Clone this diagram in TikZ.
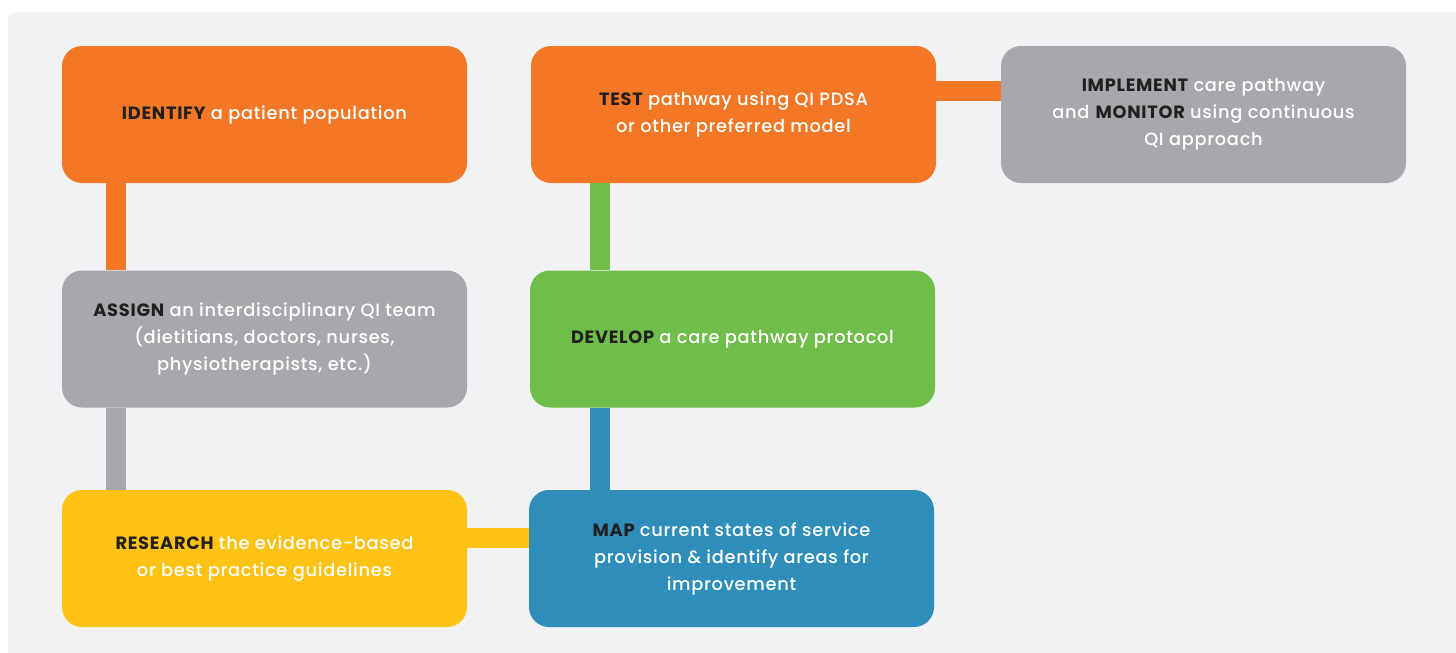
\documentclass[tikz,border=0pt]{standalone}
\usepackage{fontspec}
\setmainfont{Poppins}[UprightFont=* Medium, BoldFont=* Bold, LetterSpace=4]
\usetikzlibrary{calc}

\definecolor{qiorange}{RGB}{243,119,36}
\definecolor{qigray}{RGB}{167,168,171}
\definecolor{qigreen}{RGB}{110,190,73}
\definecolor{qiyellow}{RGB}{253,194,20}
\definecolor{qiblue}{RGB}{46,141,185}
\definecolor{qipaper}{RGB}{241,242,244}
\definecolor{qiink}{RGB}{35,31,32}

\newcommand{\kw}[1]{\textbf{\color{qiink}#1}}

\tikzset{
  qibox/.style={rectangle, rounded corners=20pt, minimum width=405pt, minimum height=137pt,
    inner sep=0pt, fill=#1, text=white, align=center,
    font=\fontsize{17.8}{27}\selectfont},
  link/.style={line width=20pt, draw=#1}
}

\begin{document}
\begin{tikzpicture}[x=1pt, y=-1pt]
			%%%%% START %%%%%
			\useasboundingbox (0, 0) rectangle (1456, 653);
			\fill[qipaper, rounded corners=8pt] (8, 12) rectangle (1470, 670);
			
			\node[qibox=qiorange] (identify) at (264.5, 114.5) {\kw{IDENTIFY} a patient population};
			\node[qibox=qiorange] (test) at (733.5, 114.5) {\kw{TEST} pathway using QI PDSA\\or other preferred model};
			\node[qibox=qigray] (implement) at (1203.5, 114.5) {\kw{IMPLEMENT} care pathway\\and \kw{MONITOR} using continuous\\QI approach};
			
			\node[qibox=qigray] (assign) at (264.5, 339) {\kw{ASSIGN} an interdisciplinary QI team\\(dietitians, doctors, nurses,\\physiotherapists, etc.)};
			\node[qibox=qigreen] (develop) at (732.5, 339) {\kw{DEVELOP} a care pathway protocol};
			
			\node[qibox=qiyellow] (research) at (264.5, 558.5) {\kw{RESEARCH} the evidence-based\\or best practice guidelines};
			\node[qibox=qiblue] (map) at (731.5, 558.5) {\kw{MAP} current states of service\\provision \& identify areas for\\improvement};
			
			% bars between the steps
			\draw[link=qiorange] ([xshift=54pt]identify.south west) -- ([xshift=54pt]assign.north west);
			\draw[link=qigray] ([xshift=54pt]assign.south west) -- ([xshift=54pt]research.north west);
			\draw[link=qiyellow] ([yshift=20.5pt]research.east) -- ([yshift=20.5pt]map.west);
			\draw[link=qiblue] ([xshift=71pt]map.north west) -- ([xshift=70pt]develop.south west);
			\draw[link=qigreen] ([xshift=70pt]develop.north west) -- ([xshift=69pt]test.south west);
			\draw[link=qiorange] ([yshift=23.5pt]test.east) -- ([yshift=23.5pt]implement.west);
			%%%%% END %%%%%
\end{tikzpicture}
\end{document}
